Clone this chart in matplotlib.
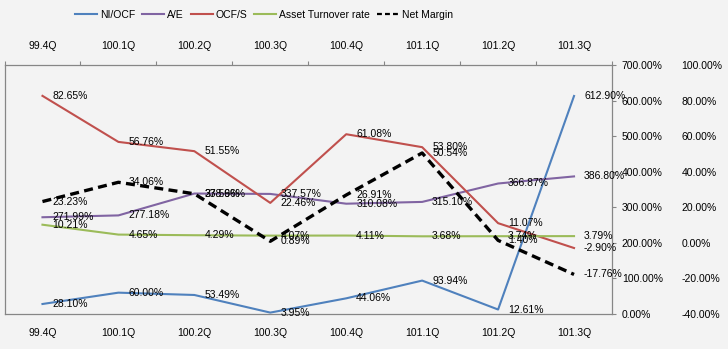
import matplotlib
matplotlib.use("Agg")
import matplotlib.pyplot as plt
from matplotlib.lines import Line2D

plt.rcParams['font.family'] = ['Liberation Sans', 'DejaVu Sans']

categories = ['99.4Q', '100.1Q', '100.2Q', '100.3Q', '100.4Q', '101.1Q', '101.2Q', '101.3Q']
ni_ocf = [28.10, 60.00, 53.49, 3.95, 44.06, 93.94, 12.61, 612.90]
a_e = [271.99, 277.18, 338.66, 337.57, 310.08, 315.10, 366.87, 386.80]
ocf_s = [82.65, 56.76, 51.55, 22.46, 61.08, 53.80, 11.07, -2.90]
turnover = [10.21, 4.65, 4.29, 4.07, 4.11, 3.68, 3.74, 3.79]
net_margin = [23.23, 34.06, 27.59, 0.89, 26.91, 50.54, 1.40, -17.76]

primary_ticks = [0, 100, 200, 300, 400, 500, 600, 700]
secondary_ticks = [-40, -20, 0, 20, 40, 60, 80, 100]

BG = '#F3F3F3'
SPINE = '#868686'
FS = 7.5

fig = plt.figure(figsize=(7.28, 3.49), dpi=100, facecolor=BG)
W, H = 728, 349
left, right, top, bottom = 4.5, 612, 65, 314
ax = fig.add_axes([left / W, 1 - bottom / H, (right - left) / W, (bottom - top) / H])
ax.set_facecolor(BG)
ax2 = ax.twinx()
ax2.set_facecolor('none')

x = list(range(len(categories)))

colors = {'NI/OCF': '#4F81BD', 'A/E': '#8064A2', 'OCF/S': '#C0504D',
          'Asset Turnover rate': '#9BBB59', 'Net Margin': 'black'}
lw = 1.5
ax.plot(x, ni_ocf, color=colors['NI/OCF'], lw=lw)
ax.plot(x, a_e, color=colors['A/E'], lw=lw)
ax2.plot(x, ocf_s, color=colors['OCF/S'], lw=lw)
ax2.plot(x, turnover, color=colors['Asset Turnover rate'], lw=lw)
ax2.plot(x, net_margin, color='black', lw=2.4, ls=(0, (2.7, 1.6)))

ax.set_xlim(-0.5, len(categories) - 0.5)
ax.set_ylim(0, 700)
ax2.set_ylim(-40, 100)


def add_labels(vals, trans):
    for xi, v in zip(x, vals):
        ax2.annotate(f'{v:.2f}%', xy=(xi, v), xycoords=trans,
                     xytext=(7.2, 0), textcoords='offset points',
                     ha='left', va='center', fontsize=FS, color='black', zorder=10)


add_labels(ni_ocf, ax.transData)
add_labels(a_e, ax.transData)
add_labels(ocf_s, ax2.transData)
add_labels(turnover, ax2.transData)
add_labels(net_margin, ax2.transData)

# primary y axis on right
ax.yaxis.tick_right()
ax.set_yticks(primary_ticks)
ax.set_yticklabels([f'{t:.2f}%' for t in primary_ticks])
ax.tick_params(axis='y', which='both', right=True, left=False, length=3, width=0.8,
               color=SPINE, labelsize=FS, pad=4, direction='out')

ax2.set_yticks(secondary_ticks)
ax2.set_yticklabels([f'{t:.2f}%' for t in secondary_ticks])
ax2.tick_params(axis='y', length=0, labelsize=FS, pad=50)
for s in ax2.spines.values():
    s.set_visible(False)

# x axes: labels on top and bottom
ax.set_xticks(x)
ax.set_xticklabels(categories)
ax.tick_params(axis='x', which='major', top=True, bottom=True, labeltop=True, labelbottom=True,
               length=0, labelsize=FS, pad=10)
ax.set_xticks([i - 0.5 for i in range(len(categories) + 1)], minor=True)
ax.tick_params(axis='x', which='minor', top=True, bottom=False, length=3, width=0.8,
               color=SPINE, direction='out')

for s in ax.spines.values():
    s.set_color(SPINE)
    s.set_linewidth(0.9)

handles = [Line2D([], [], color=colors['NI/OCF'], lw=lw),
           Line2D([], [], color=colors['A/E'], lw=lw),
           Line2D([], [], color=colors['OCF/S'], lw=lw),
           Line2D([], [], color=colors['Asset Turnover rate'], lw=lw),
           Line2D([], [], color='black', lw=1.6, ls=(0, (2.2, 1.4)))]
fig.legend(handles, ['NI/OCF', 'A/E', 'OCF/S', 'Asset Turnover rate', 'Net Margin'],
           loc='center', bbox_to_anchor=(264 / W, 1 - 15 / H), ncol=5, frameon=False,
           fontsize=FS, handlelength=2.1, handletextpad=0.25, columnspacing=0.7,
           borderaxespad=0, borderpad=0)

fig.savefig('out.png', dpi=100, facecolor=BG)
